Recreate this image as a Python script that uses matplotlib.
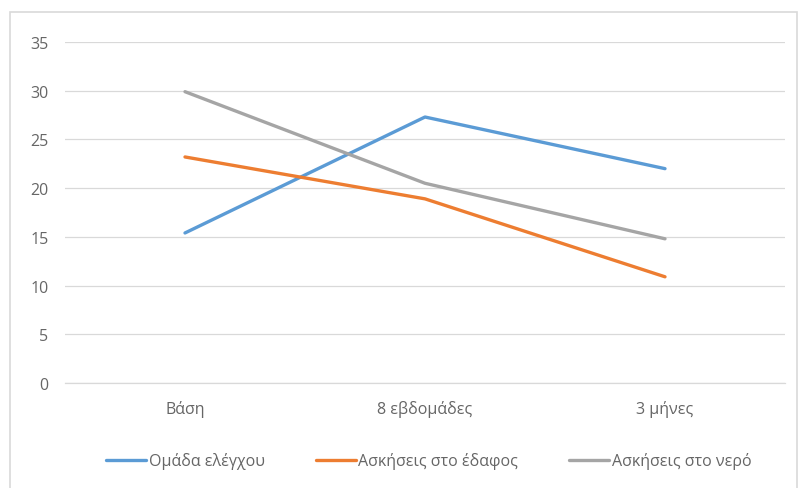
import matplotlib
matplotlib.use("Agg")
import matplotlib.pyplot as plt
from matplotlib.patches import Rectangle

plt.rcParams['font.family'] = ['Open Sans', 'DejaVu Sans']

categories = ["Βάση", "8 εβδομάδες", "3 μήνες"]
series_names = ["Ομάδα ελέγχου", "Ασκήσεις στο έδαφος", "Ασκήσεις στο νερό"]
control_group = [15.4, 27.3, 22.0]
ground_exercise = [23.2, 18.9, 10.9]
water_exercise = [29.9, 20.5, 14.8]
y_ticks = [0, 5, 10, 15, 20, 25, 30, 35]

colors = ["#5B9BD5", "#ED7D31", "#A5A5A5"]
text_color = "#666666"
grid_color = "#D9D9D9"
font_size = 11.5

fig = plt.figure(figsize=(8.03, 4.89), dpi=100)
ax = fig.add_axes([65 / 803, 1 - 384 / 489, 720 / 803, (384 - 43) / 489])

x = list(range(len(categories)))
for values, name, color in zip([control_group, ground_exercise, water_exercise],
                               series_names, colors):
    ax.plot(x, values, color=color, linewidth=2.4, label=name,
            solid_capstyle='round', solid_joinstyle='round', zorder=3)

ax.set_xlim(-0.5, len(categories) - 0.5)
ax.set_ylim(0, 35)
ax.set_yticks(y_ticks)
ax.set_xticks(x)
ax.set_xticklabels(categories)
ax.grid(axis='y', color=grid_color, linewidth=0.9, zorder=0)
ax.tick_params(axis='both', length=0, colors=text_color, labelsize=font_size)
ax.tick_params(axis='y', pad=12)
ax.tick_params(axis='x', pad=12)
for side in ['top', 'right', 'left']:
    ax.spines[side].set_visible(False)
ax.spines['bottom'].set_color(grid_color)
ax.spines['bottom'].set_linewidth(0.9)

fig.legend(loc='center', bbox_to_anchor=(0.534, 1 - 462 / 489), ncol=3,
           frameon=False, fontsize=font_size, handlelength=2.5, handletextpad=0.15,
           columnspacing=3.2, labelcolor=text_color)

# outer chart frame
fig.patches.append(Rectangle((10 / 803, -0.01), 1 - 16 / 803, 1 - 13 / 489 + 0.01,
                             transform=fig.transFigure, fill=False,
                             edgecolor=grid_color, linewidth=1.2))

fig.savefig("out.png", dpi=100, facecolor="white")
